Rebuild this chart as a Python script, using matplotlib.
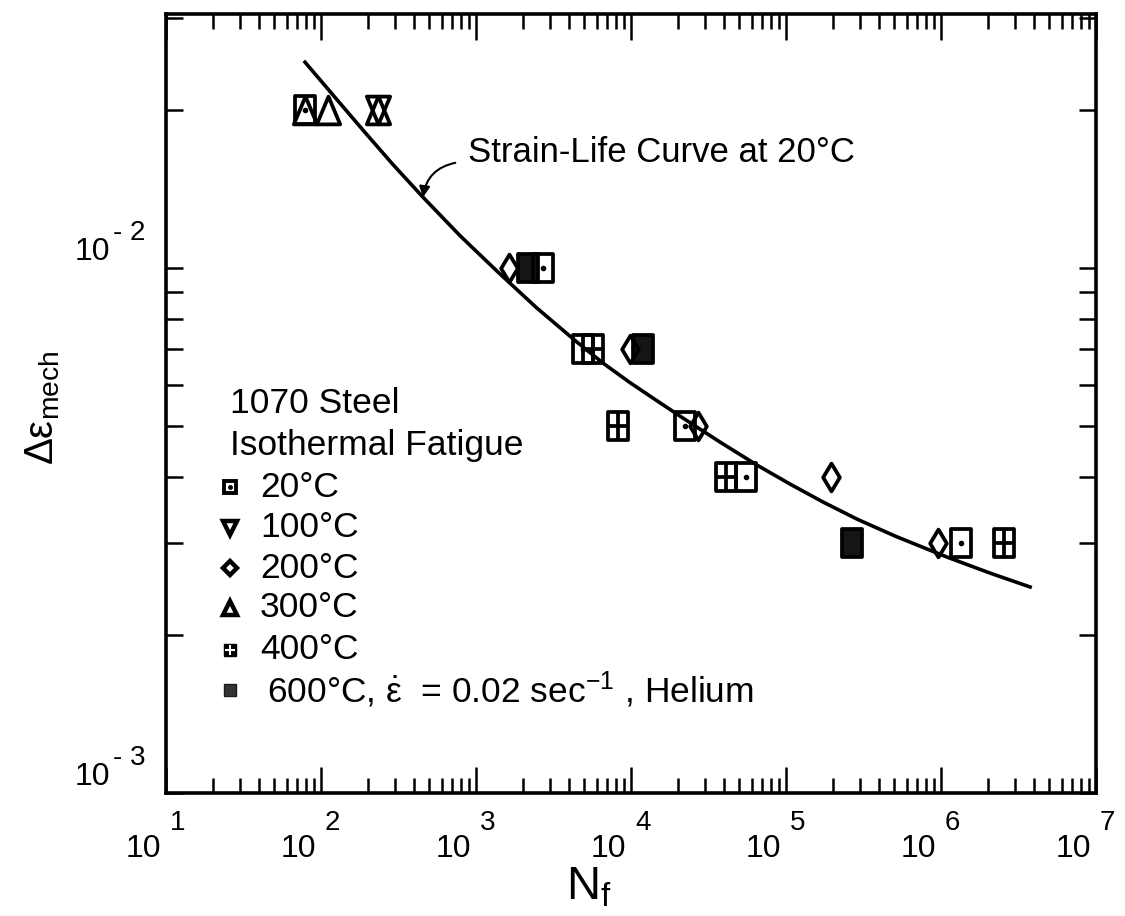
import numpy as np
import matplotlib
matplotlib.use("Agg")
import matplotlib.pyplot as plt
from matplotlib.path import Path

plt.rcParams['font.family'] = ['Liberation Sans', 'DejaVu Sans']
plt.rcParams['mathtext.fontset'] = 'custom'
plt.rcParams['mathtext.rm'] = 'Liberation Sans'
plt.rcParams['mathtext.it'] = 'Liberation Sans:italic'
plt.rcParams['mathtext.bf'] = 'Liberation Sans:bold'

# isothermal fatigue data, cycles to failure vs mechanical strain range
n20 = [79, 2700, 4900, 22300, 55200, 1.35e6]
de20 = [0.02, 0.01, 0.007, 0.005, 0.004, 0.003]
n100 = [233]
de100 = [0.02]
n200 = [1630, 9860, 27000, 195000, 955000]
de200 = [0.01, 0.007, 0.005, 0.004, 0.003]
n300 = [79, 111, 233]
de300 = [0.02, 0.02, 0.02]
n400 = [5690, 8240, 41000, 2.55e6]
de400 = [0.007, 0.005, 0.004, 0.003]
n600 = [2160, 11900, 267000]
de600 = [0.01, 0.007, 0.003]

# strain-life curve at 20C
curve_n = [78.8, 121.3, 186.6, 291.4, 455, 788.4, 1387, 2474, 4483, 6597, 9851, 14500,
           21650, 37520, 65020, 106100, 173300, 287100, 505000, 1.093e6, 2.071e6, 3.752e6]
curve_de = [0.02469, 0.02126, 0.01832, 0.01575, 0.01365, 0.01153, 0.009826, 0.00839,
            0.007228, 0.006592, 0.006051, 0.005604, 0.005179, 0.004662, 0.004214,
            0.003878, 0.003584, 0.003325, 0.003087, 0.002815, 0.002624, 0.002469]

x_exps = ['1', '2', '3', '4', '5', '6', '7']
y_exps = ['- 2', '- 3']

legend_labels = ['20°C', '100°C', '200°C', '300°C', '400°C',
                 r'600°C, $\dot{\mathrm{\varepsilon}}$  = 0.02 sec$^{\mathrm{-1}}$ , Helium']

# marker shapes (tall, like the scanned plot)
w, h = 0.36, 0.5
rect = Path([(-w, -h), (w, -h), (w, h), (-w, h), (-w, -h)],
            [Path.MOVETO, Path.LINETO, Path.LINETO, Path.LINETO, Path.CLOSEPOLY])
grid = Path([(-w, -h), (w, -h), (w, h), (-w, h), (-w, -h), (0, -h), (0, h), (-w, 0), (w, 0)],
            [Path.MOVETO, Path.LINETO, Path.LINETO, Path.LINETO, Path.CLOSEPOLY,
             Path.MOVETO, Path.LINETO, Path.MOVETO, Path.LINETO])
diam = Path([(0, -h), (0.3, 0), (0, h), (-0.3, 0), (0, -h)],
            [Path.MOVETO, Path.LINETO, Path.LINETO, Path.LINETO, Path.CLOSEPOLY])
tri_up = Path([(-0.42, -h), (0.42, -h), (0, h), (-0.42, -h)],
              [Path.MOVETO, Path.LINETO, Path.LINETO, Path.CLOSEPOLY])
tri_dn = Path([(-0.42, h), (0.42, h), (0, -h), (-0.42, h)],
              [Path.MOVETO, Path.LINETO, Path.LINETO, Path.CLOSEPOLY])

fig = plt.figure(figsize=(11.25, 9.16), dpi=100)
ax = fig.add_axes([0.1476, 0.1343, 0.8267, 0.8504])
ax.set_xscale('log')
ax.set_yscale('log')
ax.set_xlim(10, 1e7)
ax.set_ylim(1e-3, 0.0305)

ax.plot(curve_n, curve_de, color='black', lw=2.6, solid_joinstyle='round')

ms = 20
mew = 2.7
ax.plot(n600, de600, ls='none', marker=rect, ms=ms, mfc='#151515', mec='black', mew=mew)
ax.plot(n20, de20, ls='none', marker=rect, ms=ms, mfc='none', mec='black', mew=mew)
ax.plot(n20, de20, ls='none', marker='o', ms=3, mfc='black', mec='black')
ax.plot(n100, de100, ls='none', marker=tri_dn, ms=ms, mfc='none', mec='black', mew=mew)
ax.plot(n200, de200, ls='none', marker=diam, ms=ms, mfc='none', mec='black', mew=mew)
ax.plot(n300, de300, ls='none', marker=tri_up, ms=ms, mfc='none', mec='black', mew=mew)
ax.plot(n400, de400, ls='none', marker=grid, ms=ms, mfc='none', mec='black', mew=mew)

# axes frame and ticks
for s in ax.spines.values():
    s.set_linewidth(2.6)
ax.tick_params(which='both', direction='in', top=True, right=True,
               labelbottom=False, labelleft=False, width=1.8)
ax.tick_params(axis='x', which='major', length=19)
ax.tick_params(axis='x', which='minor', length=11)
ax.tick_params(axis='y', which='both', length=12)
ax.xaxis.set_minor_formatter(plt.NullFormatter())
ax.yaxis.set_minor_formatter(plt.NullFormatter())

# tick labels written as 10 with a raised exponent
for e in x_exps:
    t = 10.0 ** int(e)
    ax.annotate('10', xy=(t, 0), xycoords=('data', 'axes fraction'), xytext=(-3.6, -46),
                textcoords='offset points', ha='right', va='baseline', fontsize=23)
    ax.annotate(e, xy=(t, 0), xycoords=('data', 'axes fraction'), xytext=(2.9, -26.6),
                textcoords='offset points', ha='left', va='baseline', fontsize=20)
for e in y_exps:
    t = 10.0 ** -int(e.split()[-1])
    ax.annotate('10', xy=(0, t), xycoords=('axes fraction', 'data'), xytext=(-40, 5.8),
                textcoords='offset points', ha='right', va='baseline', fontsize=23)
    ax.annotate(e, xy=(0, t), xycoords=('axes fraction', 'data'), xytext=(-38, 20),
                textcoords='offset points', ha='left', va='baseline', fontsize=20)

ax.set_xlabel(r'N$_{\mathrm{f}}$', fontsize=34)
ax.xaxis.set_label_coords(0.455, -0.137)
ax.xaxis.label.set_verticalalignment('baseline')
ax.set_ylabel(r'Δε$_{\mathrm{mech}}$', fontsize=29)
ax.yaxis.set_label_coords(-0.112, 0.494)

# curve label with arrow
ax.text(0.3247, 0.8228, 'Strain-Life Curve at 20°C', transform=ax.transAxes,
        ha='left', va='center', fontsize=25)
ax.annotate('', xy=(curve_n[4], curve_de[4]), xycoords='data',
            xytext=(0.311, 0.809), textcoords='axes fraction',
            arrowprops=dict(arrowstyle='-|>', color='black', lw=1.5, mutation_scale=16,
                            connectionstyle='arc3,rad=0.35', shrinkA=0, shrinkB=0))

# legend block, drawn by hand like the original
ax.text(0.0688, 0.5006, '1070 Steel', transform=ax.transAxes, ha='left', va='center', fontsize=25.5)
ax.text(0.0688, 0.4467, 'Isothermal Fatigue', transform=ax.transAxes, ha='left', va='center', fontsize=25.5)
row_y = [0.3928, 0.3402, 0.2888, 0.2375, 0.1836, 0.1322]
mx = 0.0688
kw = dict(transform=ax.transAxes, clip_on=False, ls='none')
ax.plot(mx, row_y[0], marker='s', ms=8, mfc='white', mec='black', mew=2.8, **kw)
ax.plot(mx, row_y[0], marker='o', ms=2.5, mfc='black', mec='black', **kw)
ax.plot(mx, row_y[1], marker='v', ms=10, mfc='white', mec='black', mew=3.2, **kw)
ax.plot(mx, row_y[2], marker='D', ms=7, mfc='white', mec='black', mew=3.2, **kw)
ax.plot(mx, row_y[3], marker='^', ms=10, mfc='white', mec='black', mew=3.2, **kw)
ax.plot(mx, row_y[4], marker='s', ms=9, mfc='black', mec='black', **kw)
ax.plot(mx, row_y[4], marker='+', ms=7, mec='white', mew=1.5, **kw)
ax.plot(mx, row_y[5], marker='s', ms=8.5, mfc='#333333', mec='#1a1a1a', **kw)
for i, lab in enumerate(legend_labels):
    x0 = 0.1011 if i < 5 else 0.1086
    ax.text(x0, row_y[i], lab, transform=ax.transAxes, ha='left', va='center', fontsize=25.5)

fig.savefig('out.png', dpi=100)
